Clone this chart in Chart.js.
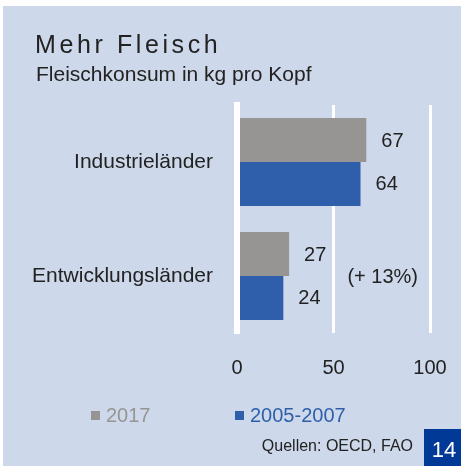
<!DOCTYPE html>
<html>
<head>
<meta charset="utf-8">
<script src="https://cdn.jsdelivr.net/npm/chart.js@4.4.0/dist/chart.umd.min.js"></script>
<style>
  html, body { margin: 0; padding: 0; background: #fff; }
  canvas { display: block; }
</style>
</head>
<body>
<canvas id="myChart" width="461" height="466"></canvas>
<script>
/* DATA */

var categories = ['Industrieländer', 'Entwicklungsländer'];
var seriesLabels = ['2017', '2005-2007'];
var values2017 = [67, 27];
var values2005 = [64, 24];
var xTicks = [0, 50, 100];
var noteText = '(+ 13%)';
var noteValue = 75.5;   // x position of the note, in kg
var noteCategory = 1;

var titleText = 'Mehr Fleisch';
var subtitleText = 'Fleischkonsum in kg pro Kopf';
var sourceText = 'Quellen: OECD, FAO';
var pageText = '14';

var FONT = '"Liberation Sans", Arial, Helvetica, sans-serif';
var BG = '#cdd8ea';
var GREY = '#979593';
var BLUE = '#2f5fab';
var TEXT = '#222222';

/* PLUGINS */

var decor = {
  id: 'decor',
  beforeDraw: function(chart) {
    var ctx = chart.ctx;
    ctx.save();
    ctx.fillStyle = '#fff';
    ctx.fillRect(0, 0, chart.width, chart.height);
    ctx.fillStyle = BG;
    ctx.fillRect(3, 6, chart.width - 3, chart.height - 6);

    // title + subtitle
    ctx.fillStyle = TEXT;
    ctx.textBaseline = 'alphabetic';
    ctx.textAlign = 'left';
    ctx.font = '25px ' + FONT;
    ctx.letterSpacing = '3.6px';
    ctx.fillText(titleText, 35, 53);
    ctx.letterSpacing = '0px';
    ctx.font = '21px ' + FONT;
    ctx.fillText(subtitleText, 36, 81);

    // legend
    var legendX = [91, 235];
    chart.data.datasets.forEach(function(ds, i) {
      ctx.fillStyle = ds.backgroundColor;
      ctx.fillRect(legendX[i], 411, 9, 9);
      ctx.font = '20px ' + FONT;
      ctx.textBaseline = 'middle';
      ctx.fillText(ds.label, legendX[i] + 15, 416);
    });

    // source + page number
    ctx.fillStyle = TEXT;
    ctx.font = '16px ' + FONT;
    ctx.textAlign = 'right';
    ctx.textBaseline = 'middle';
    ctx.fillText(sourceText, 413, 447);
    ctx.fillStyle = '#003a96';
    ctx.fillRect(424, 429, chart.width - 424, chart.height - 429);
    ctx.fillStyle = '#fff';
    ctx.font = '22px ' + FONT;
    ctx.textAlign = 'center';
    ctx.textBaseline = 'alphabetic';
    ctx.fillText(pageText, 444, 457);
    ctx.restore();
  },
  afterDatasetsDraw: function(chart) {
    var ctx = chart.ctx;
    ctx.save();
    ctx.fillStyle = TEXT;
    ctx.font = '20px ' + FONT;
    ctx.textAlign = 'left';
    ctx.textBaseline = 'middle';
    chart.data.datasets.forEach(function(ds, i) {
      chart.getDatasetMeta(i).data.forEach(function(bar, j) {
        ctx.fillText(String(ds.data[j]), bar.x + 15, bar.y + 1);
      });
    });
    // note next to the developing countries
    ctx.textAlign = 'center';
    ctx.fillText(noteText, chart.scales.x.getPixelForValue(noteValue),
      chart.scales.y.getPixelForValue(noteCategory) + 1);
    ctx.restore();
  }
};

/* CHART */

var ctx = document.getElementById('myChart').getContext('2d');

var chart = new Chart(ctx, {
  type: 'bar',
  data: {
    labels: categories,
    datasets: [{
      label: seriesLabels[0],
      backgroundColor: GREY,
      data: values2017
    },
    {
      label: seriesLabels[1],
      backgroundColor: BLUE,
      data: values2005
    }]
  },
  options: {
    indexAxis: 'y',
    responsive: false,
    animation: false,
    events: [],
    categoryPercentage: 0.77,
    barPercentage: 1.0,
    layout: {
      padding: { top: 105, right: 31, bottom: 73, left: 0 }
    },
    plugins: {
      legend: { display: false },
      tooltip: { enabled: false }
    },
    scales: {
      x: {
        min: 0,
        max: 100,
        afterBuildTicks: function(s) {
          s.ticks = xTicks.map(function(v) { return { value: v }; });
        },
        afterFit: function(s) {
          s.height = 60;
          s.paddingLeft = 0;
          s.paddingRight = 0;
        },
        grid: { color: '#ffffff', lineWidth: 3, drawTicks: false },
        border: { display: false },
        ticks: {
          padding: 23,
          color: TEXT,
          font: { family: FONT, size: 20 }
        }
      },
      y: {
        afterFit: function(s) { s.width = 237; },
        grid: { display: false, drawTicks: false },
        border: { display: true, color: '#ffffff', width: 6, z: 1 },
        ticks: {
          padding: 24,
          color: TEXT,
          font: { family: FONT, size: 21 }
        }
      }
    }
  },
  plugins: [decor]
});
</script>
</body>
</html>
